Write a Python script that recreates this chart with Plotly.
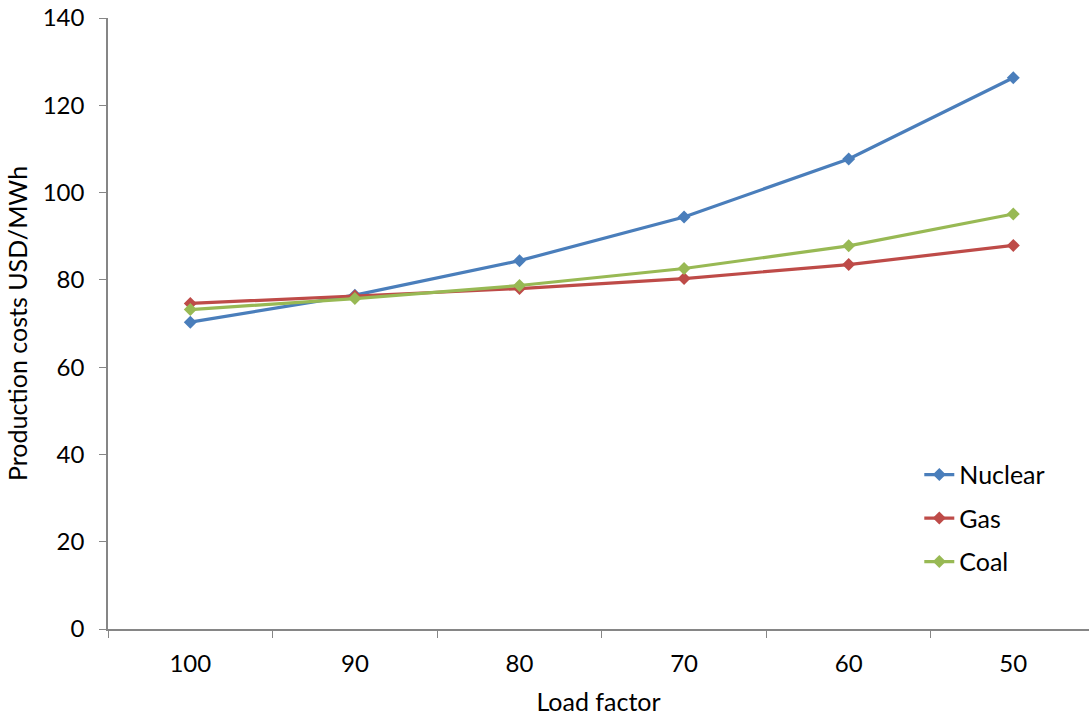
import plotly.graph_objects as go

categories = ["100", "90", "80", "70", "60", "50"]
nuclear = [70.3, 76.5, 84.4, 94.4, 107.7, 126.3]
gas = [74.6, 76.3, 78.0, 80.3, 83.5, 87.9]
coal = [73.2, 75.7, 78.7, 82.6, 87.8, 95.1]

series = [("Nuclear", nuclear, "#4A7EBB"), ("Gas", gas, "#BE4B48"), ("Coal", coal, "#98B954")]

fig = go.Figure()
for i, (name, vals, col) in enumerate(series):
    fig.add_trace(go.Scatter(
        x=categories, y=vals, name=name, mode="lines+markers",
        line=dict(color=col, width=3.2),
        marker=dict(symbol="diamond", size=10, color=col),
        legendgroup=f"g{i}",
    ))

font_family = "Lato, 'Open Sans', sans-serif"
fig.update_layout(
    width=1089, height=717,
    margin=dict(l=108, r=0, t=18, b=88),
    paper_bgcolor="white", plot_bgcolor="white",
    font=dict(family=font_family, size=24, color="black"),
    showlegend=True,
    legend=dict(x=0.827, y=0.29, xanchor="left", yanchor="top",
                font=dict(size=25), tracegroupgap=8, bgcolor="rgba(0,0,0,0)"),
    xaxis=dict(
        type="category", range=[-0.5, 5.46],
        showline=True, linecolor="#868686", linewidth=1.5,
        ticks="outside", tickson="boundaries", ticklen=7, tickcolor="#868686",
        ticklabelstandoff=12,
        showgrid=False, zeroline=False,
        title=dict(text="Load factor", standoff=18, font=dict(size=25)),
    ),
    yaxis=dict(
        range=[0, 140], dtick=20,
        showline=True, linecolor="#868686", linewidth=1.5,
        ticks="outside", ticklen=7, tickcolor="#868686",
        ticklabelstandoff=10,
        showgrid=False, zeroline=False,
        title=dict(text="Production costs USD/MWh", standoff=8, font=dict(size=25)),
    ),
)

fig.write_html("out.html")
